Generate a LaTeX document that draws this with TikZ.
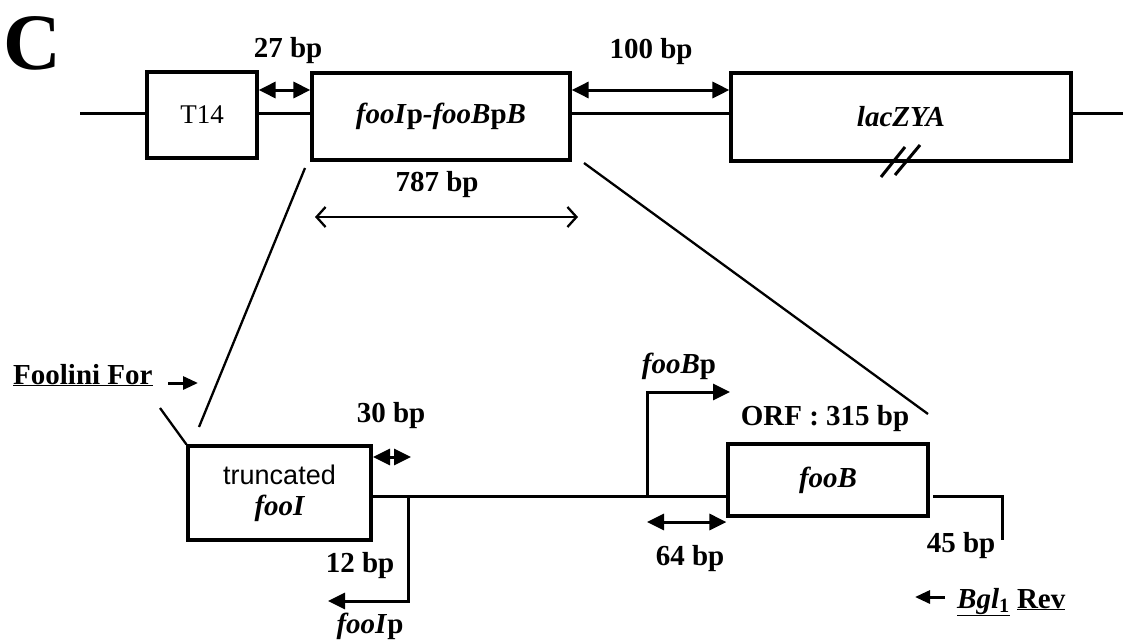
\documentclass[tikz,border=0pt]{standalone}
\usepackage{fontspec}
\setmainfont{Liberation Serif}
\newfontfamily\arialfont{Liberation Sans}
\usetikzlibrary{arrows.meta,calc}

\begin{document}
\begin{tikzpicture}[
  x=1pt, y=-1pt,
  >={Triangle[length=17pt,width=16pt]},
  every node/.style={font=\fontsize{29}{31}\selectfont\bfseries, inner sep=0pt},
  gene/.style={draw, line width=3.2pt, align=center, font=\fontsize{29}{31}\selectfont\bfseries\itshape},
  dna/.style={line width=3pt},
  cut/.style={line width=2.3pt},
  lbl/.style={anchor=base},
  primer/.style={line width=3pt, -{Triangle[length=15pt,width=13pt]}}
]
\useasboundingbox (0,0) rectangle (1123,642);
\node[anchor=base west, font=\fontsize{80}{80}\selectfont\bfseries] (panel) at (3,70) {C};

% construct
\node[gene, minimum width=110pt, minimum height=86pt, font=\fontsize{27}{30}\selectfont] (t14) at (202,115) {T14};
\node[gene, minimum width=258pt, minimum height=87pt] (fooIpB) at (441,116.5) {fooI\textup{p}-fooB\textup{p}B};
\node[gene, minimum width=340pt, minimum height=88pt] (lac) at (901,117) {lacZYA};
\coordinate (topL) at (80,113);
\coordinate (topR) at (1123,113);
\draw[dna] (topL) -- (topL -| t14.west);
\draw[dna] (t14.east |- topL) -- (fooIpB.west |- topL);
\draw[dna] (fooIpB.east |- topL) -- (lac.west |- topL);
\draw[dna] (lac.east |- topL) -- (topR);
\draw[line width=3pt] (881,177) -- (905,147);
\draw[line width=3pt] (895,175) -- (920,145);

% distances on top
\coordinate (dimY) at (0,90);
\draw[dna, <->] (t14.east |- dimY) -- (fooIpB.west |- dimY);
\draw[dna, <->] (fooIpB.east |- dimY) -- (lac.west |- dimY);
\node[lbl] (bp27) at (288,58) {27 bp};
\node[lbl] (bp100) at (651,59) {100 bp};
\node[lbl] (bp787) at (437,191) {787 bp};
\coordinate (spanL) at (315,217);
\coordinate (spanR) at (578,217);
\draw[cut, {Straight Barb[length=9pt,width=20pt]}-{Straight Barb[length=9pt,width=20pt]}] (spanL) -- (spanR);

% zoom lines
\coordinate (zoomLtop) at (305,168);
\coordinate (zoomLbot) at (199,427);
\coordinate (zoomRtop) at (584,163);
\coordinate (zoomRbot) at (928,414);
\draw[cut] (zoomLtop) -- (zoomLbot);
\draw[cut] (zoomRtop) -- (zoomRbot);

% insert
\node[gene, minimum width=183pt, minimum height=94pt] (trunc) at (279.5,493) {{\arialfont\mdseries\upshape\fontsize{27}{31}\selectfont truncated}\\fooI};
\node[gene, minimum width=200pt, minimum height=72pt] (fooB) at (828,480) {fooB};
\coordinate (mainY) at (0,496);
\draw[dna] (trunc.east |- mainY) -- (fooB.west |- mainY);

% fooIp promoter
\coordinate (pI) at (408,496);
\coordinate (pIend) at (328,601);
\draw[dna, ->] (pI) |- (pIend);
\node[lbl] (bp12) at (360,572) {12 bp};
\node[lbl] (fooIp) at (370,633) {\textit{fooI}p};
\coordinate (sp30L) at (373,457);
\coordinate (sp30R) at (411,457);
\draw[dna, <->] (sp30L) -- (sp30R);
\node[lbl] (bp30) at (391,422) {30 bp};

% fooBp promoter
\coordinate (pB) at (647,496);
\coordinate (pBend) at (730,392);
\draw[dna, ->] (pB) |- (pBend);
\node[lbl] (fooBp) at (679,373) {\textit{fooB}p};
\node[lbl] (orf) at (825,425) {ORF : 315 bp};
\coordinate (dim64) at (0,522);
\draw[dna, <->] (pB |- dim64) -- (fooB.west |- dim64);
\node[lbl] (bp64) at (690,565) {64 bp};

% 3' end
\coordinate (tailA) at (933,496);
\coordinate (tailB) at (1002,540);
\draw[dna] (tailA) -| (tailB);
\node[lbl] (bp45) at (961,552) {45 bp};

% primers
\node[anchor=base west] (forP) at (13,384) {\underline{Foolini For}};
\coordinate (forA) at (168,383);
\coordinate (forB) at (198,383);
\draw[primer] (forA) -- (forB);
\coordinate (forC) at (160,408);
\draw[cut] (forC) -- (trunc.north west);
\node[anchor=base west] (revP) at (957,608) {\underline{\textit{Bgl}\textsubscript{1}}~\underline{Rev}};
\coordinate (revA) at (945,597);
\coordinate (revB) at (915,597);
\draw[primer] (revA) -- (revB);
\end{tikzpicture}
\end{document}
